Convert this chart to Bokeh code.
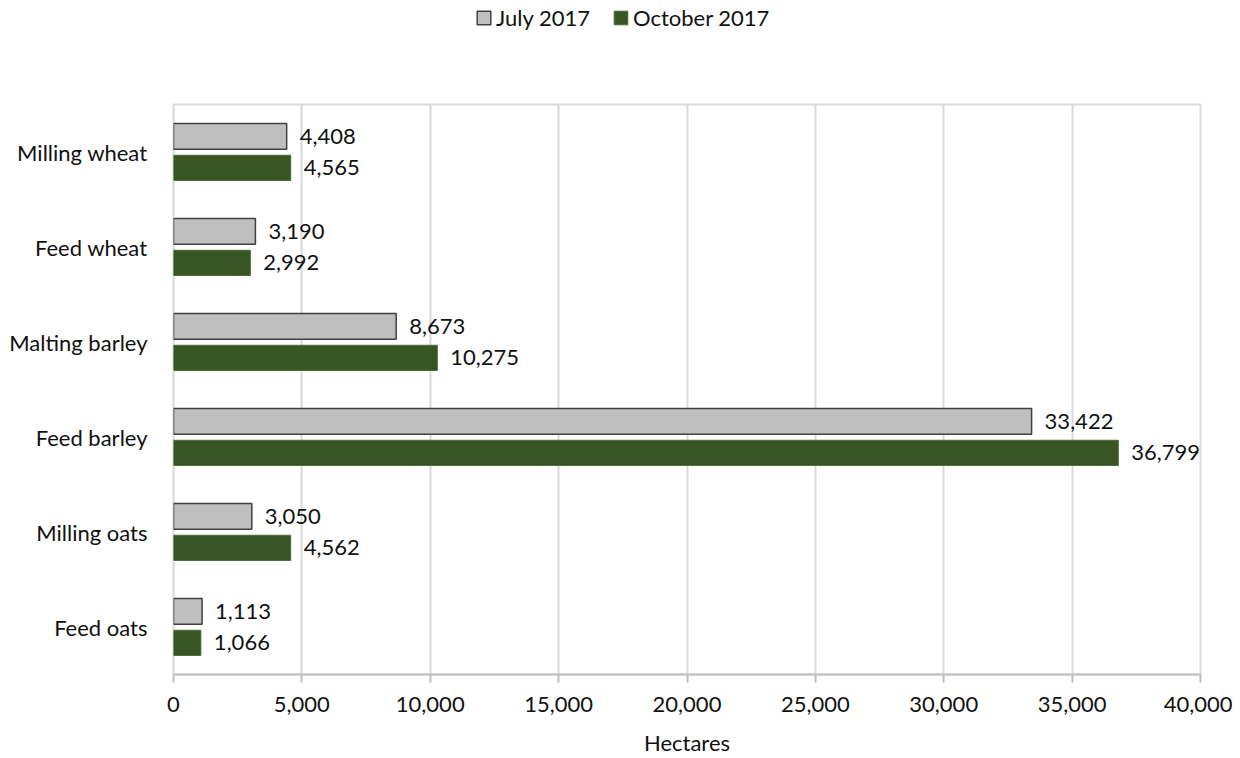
from bokeh.plotting import figure
from bokeh.layouts import column
from bokeh.models import (ColumnDataSource, FactorRange, Range1d, FixedTicker,
                          NumeralTickFormatter, Legend, LegendItem)
from bokeh.transform import dodge
from bokeh.core.properties import value
from bokeh.embed import file_html
from bokeh.resources import INLINE

categories = ["Milling wheat", "Feed wheat", "Malting barley", "Feed barley",
              "Milling oats", "Feed oats"]
july_2017 = [4408, 3190, 8673, 33422, 3050, 1113]
october_2017 = [4565, 2992, 10275, 36799, 4562, 1066]
x_ticks = [0, 5000, 10000, 15000, 20000, 25000, 30000, 35000, 40000]
series_names = ["July 2017", "October 2017"]

FONT = "Lato"
FS = "22px"
GRAY_FILL, GRAY_LINE = "#BFBFBF", "#404040"
GREEN_FILL, GREEN_LINE = "#375623", "#4a6a35"

src = ColumnDataSource(dict(
    cat=categories,
    july=july_2017,
    octo=october_2017,
    july_lbl=[f"{v:,}" for v in july_2017],
    octo_lbl=[f"{v:,}" for v in october_2017],
))

# ---------------- legend strip ----------------
LEG_H = 40
lp = figure(width=1232, height=LEG_H, output_backend="svg", toolbar_location=None,
            x_range=Range1d(0, 1), y_range=FactorRange(*categories),
            min_border=0, x_axis_location=None, y_axis_location=None)
lp.outline_line_color = None
lp.xgrid.grid_line_color = None
lp.ygrid.grid_line_color = None
lp.border_fill_color = "white"
l1 = lp.hbar(y="cat", right="july", left=0, height=0.5, source=src,
             fill_color=GRAY_FILL, line_color=GRAY_LINE, line_width=1.5,
             visible=False)
l2 = lp.hbar(y="cat", right="octo", left=0, height=0.5, source=src,
             fill_color=GREEN_FILL, line_color=GREEN_LINE, line_width=1,
             visible=False)
legend = Legend(items=[LegendItem(label=series_names[0], renderers=[l1]),
                       LegendItem(label=series_names[1], renderers=[l2])],
                orientation="horizontal", location=(302, 9),
                padding=0, margin=0, spacing=22, label_standoff=4,
                glyph_width=17, glyph_height=17,
                label_text_font=FONT, label_text_font_size=FS,
                label_text_color="#111111",
                inactive_fill_alpha=0,
                background_fill_alpha=0, border_line_color=None)
lp.add_layout(legend, "center")

# ---------------- main chart ----------------
p = figure(width=1232, height=758 - LEG_H, output_backend="svg", toolbar_location=None,
           y_range=FactorRange(*reversed(categories), range_padding=0),
           x_range=Range1d(0, 40000),
           min_border_left=173, min_border_right=32, min_border_top=104 - LEG_H,
           min_border_bottom=83)
p.background_fill_color = "white"
p.border_fill_color = "white"
p.outline_line_color = "#D9D9D9"
p.outline_line_width = 2

JUL_OFF = 0.164
OCT_OFF = -0.167

p.hbar(y=dodge("cat", JUL_OFF, range=p.y_range), right="july", left=0,
       height=0.27, source=src, fill_color=GRAY_FILL,
       line_color=GRAY_LINE, line_width=1.5)
p.hbar(y=dodge("cat", OCT_OFF, range=p.y_range), right="octo", left=0,
       height=0.265, source=src, fill_color=GREEN_FILL,
       line_color=GREEN_LINE, line_width=1)

p.text(x="july", y=dodge("cat", JUL_OFF, range=p.y_range), text="july_lbl",
       source=src, x_offset=13, text_baseline="middle", text_align="left",
       text_font=value(FONT), text_font_size=FS, text_color="#111111")
p.text(x="octo", y=dodge("cat", OCT_OFF, range=p.y_range), text="octo_lbl",
       source=src, x_offset=13, text_baseline="middle", text_align="left",
       text_font=value(FONT), text_font_size=FS, text_color="#111111")

p.xaxis.ticker = FixedTicker(ticks=x_ticks)
p.xaxis.formatter = NumeralTickFormatter(format="0,0")
p.xaxis.axis_label = "Hectares"
p.xaxis.axis_label_text_font = FONT
p.xaxis.axis_label_text_font_size = FS
p.xaxis.axis_label_text_font_style = "normal"
p.xaxis.axis_label_text_color = "#111111"
p.xaxis.axis_label_standoff = 14
p.xaxis.major_label_text_font = FONT
p.xaxis.major_label_text_font_size = FS
p.xaxis.major_label_text_color = "#111111"
p.xaxis.major_label_standoff = 14
p.xaxis.axis_line_color = "#BFBFBF"
p.xaxis.axis_line_width = 2
p.xaxis.major_tick_line_color = "#BFBFBF"
p.xaxis.major_tick_line_width = 2
p.xaxis.major_tick_out = 8
p.xaxis.major_tick_in = 0
p.xaxis.minor_tick_line_color = None

p.yaxis.major_label_text_font = FONT
p.yaxis.major_label_text_font_size = FS
p.yaxis.major_label_text_color = "#111111"
p.yaxis.major_label_standoff = 20
p.yaxis.axis_line_color = None
p.yaxis.major_tick_line_color = None
p.yaxis.minor_tick_line_color = None

p.xgrid.grid_line_color = "#D9D9D9"
p.xgrid.grid_line_width = 2
p.ygrid.grid_line_color = None

page = column(lp, p, spacing=0)
open("out.html", "w").write(file_html(page, INLINE))
